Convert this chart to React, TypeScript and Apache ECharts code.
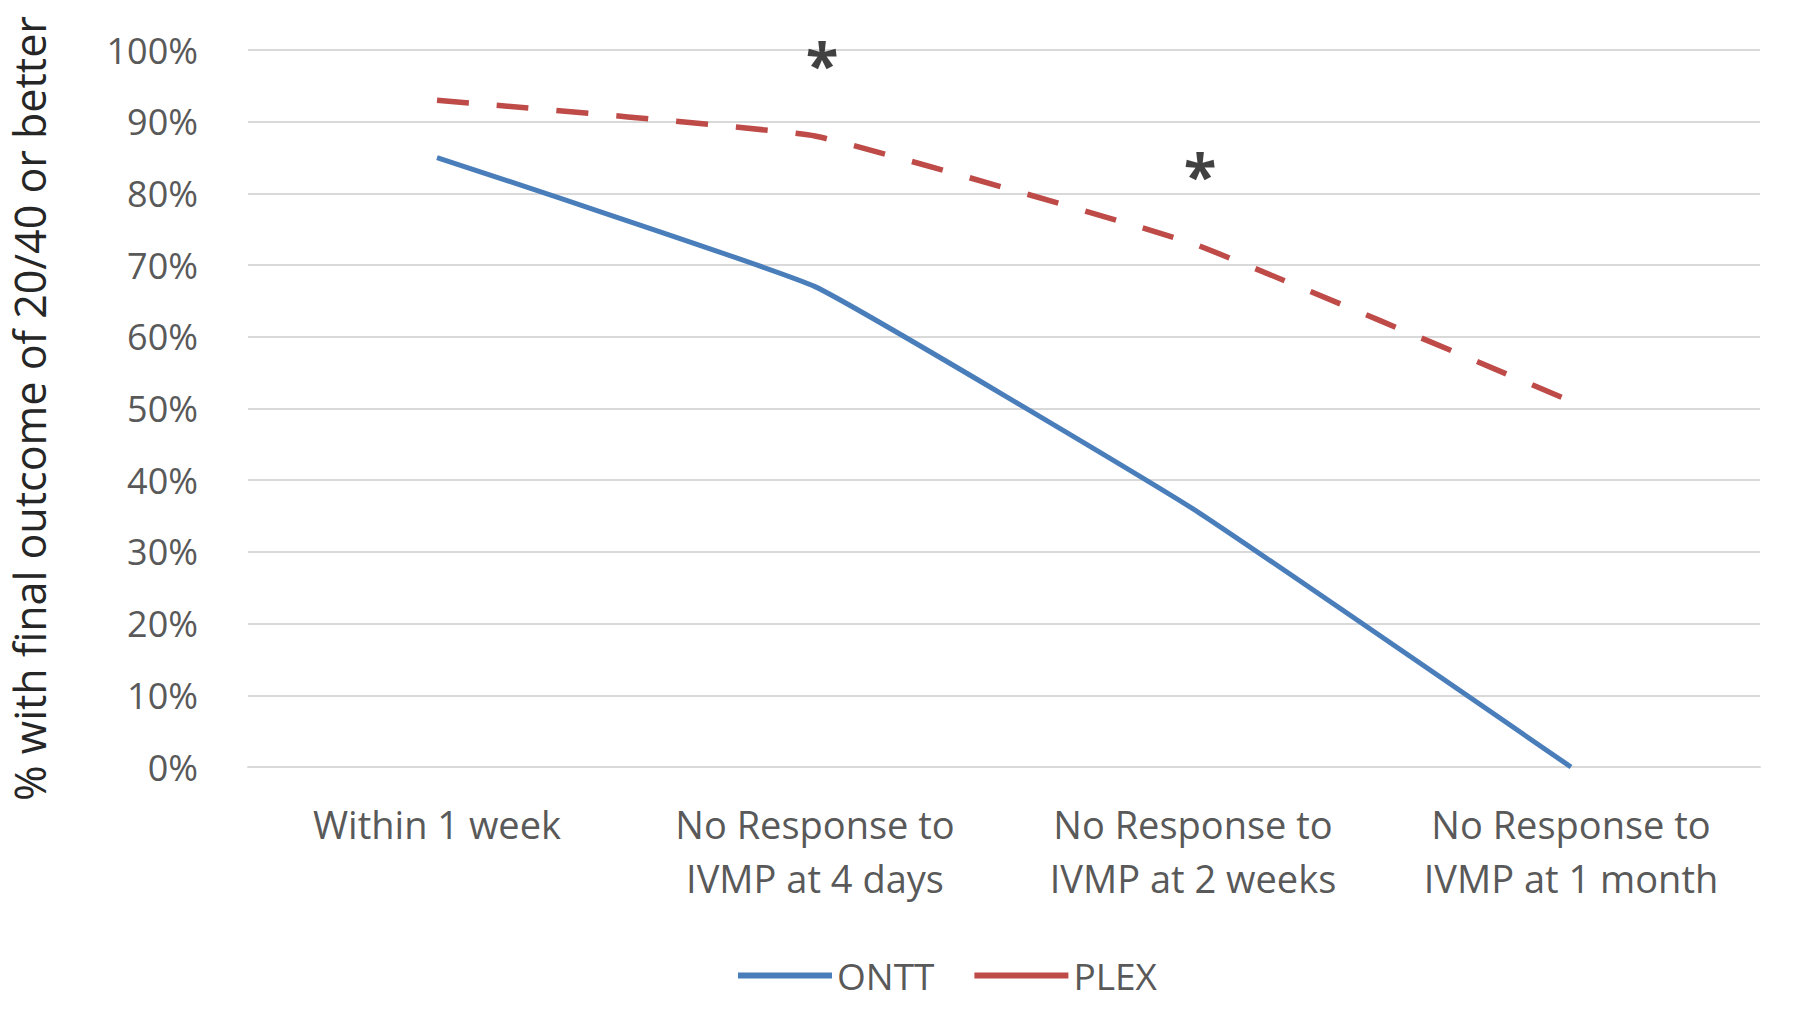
import React, { useEffect, useRef } from "react";
import * as echarts from "echarts";

const categories = [
  "Within 1 week",
  "No Response to\nIVMP at 4 days",
  "No Response to\nIVMP at 2 weeks",
  "No Response to\nIVMP at 1 month",
];
const onttValues = [85, 67, 36, 0];
const plexValues = [93, 88, 73, 51];
// significance markers: [category index, y position in %]
const asteriskPoints = [
  [1, 98],
  [2, 82.5],
];
const yTicks = { min: 0, max: 100, interval: 10 };
const yTitle = "% with final outcome of 20/40 or better";

const FONT = "Open Sans";

export default function App() {
  const ref = useRef<HTMLDivElement>(null);
  useEffect(() => {
    if (!ref.current) return;
    const chart = echarts.init(ref.current, undefined, { renderer: "svg" });
    chart.setOption({
      animation: false,
      backgroundColor: "#ffffff",
      textStyle: { fontFamily: FONT },
      grid: { left: 239, right: 40, top: 50, bottom: 259, containLabel: false },
      legend: {
        data: ["ONTT", "PLEX"],
        left: 733,
        top: 952,
        itemWidth: 94,
        itemHeight: 6,
        itemGap: 40,
        icon: "rect",
        textStyle: { fontSize: 37, color: "#595959", fontFamily: FONT },
      },
      xAxis: {
        type: "category",
        data: categories,
        boundaryGap: true,
        axisLine: { show: true, lineStyle: { color: "#d9d9d9", width: 2 } },
        axisTick: { show: false },
        axisLabel: {
          margin: 30,
          fontSize: 38,
          lineHeight: 54,
          color: "#595959",
          fontFamily: FONT,
          interval: 0,
        },
      },
      yAxis: {
        type: "value",
        min: yTicks.min,
        max: yTicks.max,
        interval: yTicks.interval,
        name: yTitle,
        nameLocation: "middle",
        nameGap: 197,
        nameRotate: 90,
        nameTextStyle: { fontSize: 43, color: "#262626", fontFamily: FONT },
        axisLine: { show: false },
        axisTick: { show: false },
        axisLabel: {
          formatter: "{value}%",
          margin: 50,
          fontSize: 36,
          color: "#595959",
          fontFamily: FONT,
        },
        splitLine: { lineStyle: { color: "#d9d9d9", width: 2 } },
      },
      series: [
        {
          name: "ONTT",
          type: "line",
          data: onttValues,
          smooth: 0.1,
          symbol: "none",
          color: "#4a7ebb",
          lineStyle: { color: "#4a7ebb", width: 5 },
        },
        {
          name: "PLEX",
          type: "line",
          data: plexValues,
          smooth: 0.1,
          symbol: "none",
          color: "#be4b48",
          lineStyle: { color: "#be4b48", width: 5.5, type: [32, 28], cap: "butt" },
        },
        {
          name: "sig",
          type: "scatter",
          data: asteriskPoints,
          symbolSize: 2,
          itemStyle: { color: "rgba(0,0,0,0)" },
          silent: true,
          z: 10,
          label: {
            show: true,
            position: "inside",
            offset: [7, 0],
            formatter: "*",
            fontSize: 60,
            fontWeight: "bold",
            color: "#111111",
            fontFamily: FONT,
          },
        },
      ],
    });
    return () => chart.dispose();
  }, []);
  return (
    <div
      ref={ref}
      style={{ position: "absolute", left: 0, top: 0, width: 1800, height: 1026 }}
    />
  );
}
